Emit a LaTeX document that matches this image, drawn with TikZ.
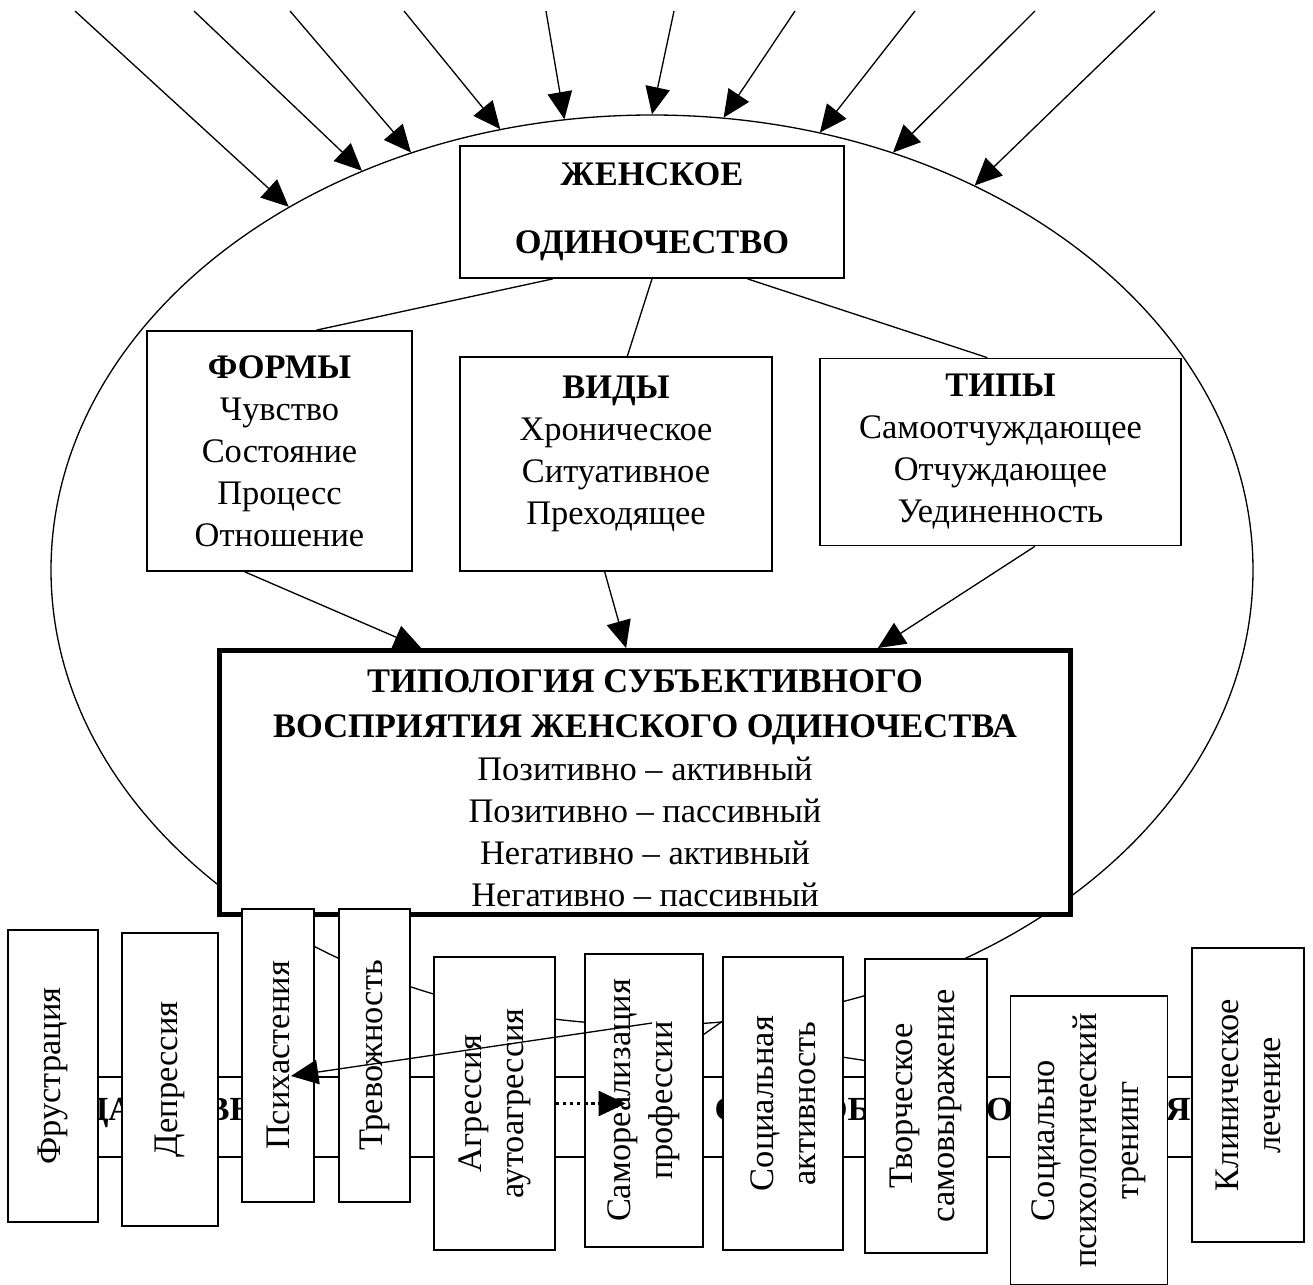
\documentclass[tikz,border=0pt]{standalone}
\usepackage{fontspec}
\setmainfont{Liberation Serif}
\usetikzlibrary{arrows.meta,shapes.geometric}

\tikzset{
	wh/.style 2 args={minimum width=#1*0.02cm,minimum height=#2*0.02cm},
	box/.style={draw,fill=white,line width=1pt,inner sep=0pt,align=center},
	vbox/.style 2 args={box,rotate=90,minimum width=#2*0.02cm,minimum height=#1*0.02cm},
	boxtext/.style={inner sep=0pt,align=center},
	bandtext/.style={inner sep=0pt,font=\bfseries\fontsize{19.2pt}{22pt}\selectfont}
}

\begin{document}
\begin{tikzpicture}[x=0.02cm,y=-0.02cm,>={Triangle[length=15.5pt,width=14pt]},line width=0.75pt,font=\fontsize{19.6pt}{23.9pt}\selectfont]
	\useasboundingbox (0,0) rectangle (1313,1285);

	% Ellipse
	\node[draw,ellipse,inner sep=0pt,wh={1202}{910}] (ell) at (652,570) {};

	% Band behind the coping boxes
	\node[box,wh={1200}{80}] (band) at (640,1117) {};
	\node[bandtext,anchor=base east] (bandl) at (312,1120) {НЕАДАПТИВНЫЕ};
	\node[bandtext,anchor=base west] (bandr) at (714,1120) {\resizebox{9.52cm}{\height}{СПОСОБЫ ПРЕОДОЛЕНИЯ}};
	\draw (690,1044) -- (730,1016);
	\draw (835,1056) -- (875,1062);

	% Influences
	\foreach \sx/\ang in {75/135,194/126,290/120,404/109,546/101,674/90,795/81,915/69,1035/60,1155/50}
		\draw[->] (\sx,11) -- (ell.\ang);

	% Top box
	\node[box,wh={384}{132}] (zhen) at (652,212) {\textbf{ЖЕНСКОЕ}\\[14.8pt]\textbf{ОДИНОЧЕСТВО}};

	% Forms, kinds, types
	\node[box,wh={265}{240}] (formy) at (279.5,451) {\textbf{ФОРМЫ}\\Чувство\\Состояние\\Процесс\\Отношение};
	\node[box,wh={312}{214}] (vidy) at (616,464) {};
	\node[boxtext] (vidytext) at (616,453.5) {\textbf{ВИДЫ}\\Хроническое\\Ситуативное\\Преходящее};
	\node[box,wh={361}{187}] (tipy) at (1000.5,452) {\textbf{ТИПЫ}\\Самоотчуждающее\\Отчуждающее\\Уединенность};
	\draw (zhen.214) -- (formy.73);
	\draw (zhen.270) -- (vidy.84);
	\draw (zhen.325) -- (tipy.98);

	% Typology
	\node[box,line width=2.8pt,wh={851}{264}] (main) at (645,782.5) {};
	\node[boxtext] (maintext) at (645,788.5) {\textbf{ТИПОЛОГИЯ СУБЪЕКТИВНОГО}\\[1.5pt]\textbf{ВОСПРИЯТИЯ ЖЕНСКОГО ОДИНОЧЕСТВА}\\[1pt]Позитивно – активный\\Позитивно – пассивный\\Негативно – активный\\Негативно – пассивный};
	\draw[->] (formy.254) -- (main.149);
	\draw[->] (vidy.264) -- (main.98);
	\draw[->] (tipy.290) -- (main.30);

	% Coping boxes
	\foreach \id/\cx/\cy/\w/\h/\txt in {
		fru/53/1076/90/292/Фрустрация,
		dep/170/1079.5/96/293/Депрессия,
		psy/278/1055.5/72/293/Психастения,
		trev/374.5/1055.5/71/293/Тревожность,
		agr/494.5/1103.5/121/293/{Агрессия\\аутоагрессия},
		samo/644/1100.5/118/293/{Самореализация\\профессии},
		socact/783/1103.5/120/293/{Социальная\\активность},
		tvor/926/1106/122/294/{Творческое\\самовыражение},
		trening/1089/1140.5/157/289/{Социально\\психологический\\тренинг},
		klin/1248/1095/112/294/{Клиническое\\лечение}}
		\node[vbox={\w}{\h}] (\id) at (\cx,\cy) {\txt};

	% Crossing arrows
	\coordinate (crossstart) at (652,1023);
	\coordinate (crossend) at (291,1076);
	\draw[->] (crossstart) -- (crossend);
	\draw[->,dotted,line width=2pt] (agr.south) -- ++(70,0);
\end{tikzpicture}
\end{document}
